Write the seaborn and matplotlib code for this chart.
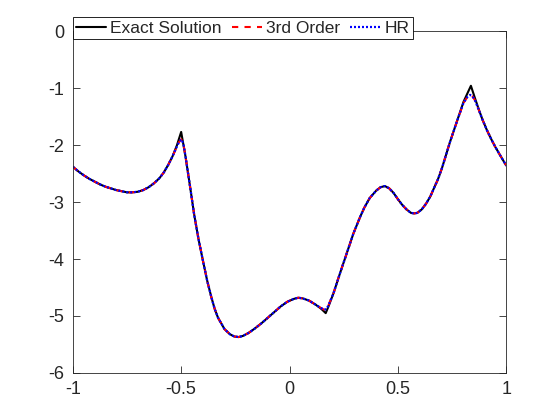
import numpy as np
import pandas as pd
import seaborn as sns
import matplotlib
matplotlib.use("Agg")
import matplotlib.pyplot as plt

# values
x_exact = [-1.0, -0.975, -0.95, -0.925, -0.90, -0.875, -0.85, -0.825, -0.80, -0.775,
           -0.75, -0.725, -0.70, -0.675, -0.65, -0.625, -0.60, -0.58, -0.56, -0.54,
           -0.52, -0.50, -0.48, -0.46, -0.44, -0.42, -0.40, -0.38, -0.36, -0.345,
           -0.33, -0.30, -0.275, -0.255, -0.235, -0.215, -0.19, -0.16, -0.13, -0.10,
           -0.07, -0.04, -0.01, 0.02, 0.04, 0.06, 0.09, 0.12, 0.145, 0.167,
           0.18, 0.203, 0.233, 0.264, 0.295, 0.326, 0.345, 0.37, 0.40, 0.42,
           0.44, 0.46, 0.48, 0.50, 0.52, 0.54, 0.56, 0.575, 0.59, 0.61,
           0.63, 0.65, 0.665, 0.685, 0.703, 0.72, 0.741, 0.772, 0.803, 0.82,
           0.837, 0.855, 0.872, 0.89, 0.911, 0.93, 0.949, 0.975, 1.0]
y_exact = [-2.38, -2.46, -2.53, -2.59, -2.64, -2.69, -2.73, -2.76, -2.79, -2.81,
           -2.83, -2.83, -2.82, -2.79, -2.74, -2.67, -2.58, -2.48, -2.35, -2.20,
           -2.01, -1.77, -2.20, -2.70, -3.22, -3.65, -4.02, -4.38, -4.68, -4.88,
           -5.03, -5.23, -5.32, -5.36, -5.37, -5.35, -5.30, -5.22, -5.13, -5.03,
           -4.93, -4.83, -4.75, -4.70, -4.68, -4.69, -4.73, -4.80, -4.87, -4.95,
           -4.83, -4.60, -4.25, -3.90, -3.55, -3.26, -3.10, -2.93, -2.80, -2.74,
           -2.72, -2.76, -2.84, -2.95, -3.05, -3.13, -3.19, -3.20, -3.19, -3.13,
           -3.03, -2.90, -2.77, -2.60, -2.41, -2.20, -1.94, -1.59, -1.24, -1.10,
           -0.96, -1.17, -1.36, -1.55, -1.74, -1.89, -2.03, -2.20, -2.36]

x_num = [-1.0, -0.975, -0.95, -0.925, -0.90, -0.875, -0.85, -0.825, -0.80, -0.775,
         -0.75, -0.725, -0.70, -0.675, -0.65, -0.625, -0.60, -0.58, -0.56, -0.54,
         -0.52, -0.51, -0.50, -0.49, -0.48, -0.46, -0.44, -0.42, -0.40, -0.38,
         -0.36, -0.345, -0.33, -0.30, -0.275, -0.255, -0.235, -0.215, -0.19, -0.16,
         -0.13, -0.10, -0.07, -0.04, -0.01, 0.02, 0.04, 0.06, 0.09, 0.12,
         0.145, 0.16, 0.17, 0.18, 0.203, 0.233, 0.264, 0.295, 0.326, 0.345,
         0.37, 0.40, 0.42, 0.44, 0.46, 0.48, 0.50, 0.52, 0.54, 0.56,
         0.575, 0.59, 0.61, 0.63, 0.65, 0.665, 0.685, 0.703, 0.72, 0.741,
         0.772, 0.803, 0.82, 0.833, 0.845, 0.855, 0.872, 0.89, 0.911, 0.93,
         0.949, 0.975, 1.0]
y_3rd = [-2.38, -2.46, -2.53, -2.59, -2.64, -2.69, -2.73, -2.76, -2.79, -2.81,
         -2.83, -2.83, -2.82, -2.79, -2.74, -2.67, -2.58, -2.48, -2.35, -2.20,
         -2.03, -1.95, -1.90, -1.97, -2.20, -2.70, -3.22, -3.65, -4.02, -4.38,
         -4.68, -4.88, -5.03, -5.23, -5.32, -5.36, -5.37, -5.35, -5.30, -5.22,
         -5.13, -5.03, -4.93, -4.83, -4.75, -4.70, -4.68, -4.69, -4.73, -4.80,
         -4.86, -4.89, -4.88, -4.81, -4.60, -4.25, -3.90, -3.55, -3.26, -3.10,
         -2.93, -2.80, -2.74, -2.72, -2.76, -2.84, -2.95, -3.05, -3.13, -3.19,
         -3.20, -3.19, -3.13, -3.03, -2.90, -2.77, -2.60, -2.41, -2.20, -1.94,
         -1.59, -1.26, -1.16, -1.12, -1.15, -1.21, -1.37, -1.55, -1.74, -1.89,
         -2.03, -2.20, -2.36]
y_hr = [-2.38, -2.46, -2.53, -2.59, -2.64, -2.69, -2.73, -2.76, -2.79, -2.81,
        -2.83, -2.83, -2.82, -2.79, -2.74, -2.67, -2.58, -2.48, -2.35, -2.20,
        -2.03, -1.95, -1.90, -1.97, -2.20, -2.70, -3.22, -3.65, -4.02, -4.38,
        -4.68, -4.88, -5.03, -5.23, -5.32, -5.36, -5.37, -5.35, -5.30, -5.22,
        -5.13, -5.03, -4.93, -4.83, -4.75, -4.70, -4.68, -4.69, -4.73, -4.80,
        -4.86, -4.89, -4.88, -4.81, -4.60, -4.25, -3.90, -3.55, -3.26, -3.10,
        -2.93, -2.80, -2.74, -2.72, -2.76, -2.84, -2.95, -3.05, -3.13, -3.19,
        -3.20, -3.19, -3.13, -3.03, -2.90, -2.77, -2.60, -2.41, -2.20, -1.94,
        -1.59, -1.26, -1.16, -1.12, -1.15, -1.21, -1.37, -1.55, -1.74, -1.89,
        -2.03, -2.20, -2.36]

x_ticks = [-1, -0.5, 0, 0.5, 1]
x_labels = ["-1", "-0.5", "0", "0.5", "1"]
y_ticks = [0, -1, -2, -3, -4, -5, -6]
y_labels = ["0", "-1", "-2", "-3", "-4", "-5", "-6"]

sns.set_style("ticks")
plt.rcParams['font.family'] = ['Liberation Sans', 'DejaVu Sans']
grey = (0.15, 0.15, 0.15)

fig = plt.figure(figsize=(5.6, 4.2), dpi=100)
ax = fig.add_axes([0.13, 0.112, 0.774, 0.814])

exact = pd.DataFrame({'x': x_exact, 'y': y_exact})
num3 = pd.DataFrame({'x': x_num, 'y': y_3rd})
numhr = pd.DataFrame({'x': x_num, 'y': y_hr})

sns.lineplot(data=exact, x='x', y='y', ax=ax, color='black', lw=1.5,
             label='Exact Solution', sort=False)
sns.lineplot(data=num3, x='x', y='y', ax=ax, color='red', lw=1.5,
             label='3rd Order', sort=False)
ax.lines[-1].set_dashes((3, 3))
sns.lineplot(data=numhr, x='x', y='y', ax=ax, color='blue', lw=1.6,
             label='HR', sort=False)
ax.lines[-1].set_dashes((0.9, 0.9))

ax.set_xlim(-1, 1)
ax.set_ylim(-6, 0)
ax.set_xticks(x_ticks)
ax.set_xticklabels(x_labels)
ax.set_yticks(y_ticks)
ax.set_yticklabels(y_labels)
ax.set_xlabel('')
ax.set_ylabel('')
ax.tick_params(direction='in', length=5, width=0.6, colors=grey,
               labelsize=13, top=True, right=True, pad=6)
for s in ax.spines.values():
    s.set_visible(True)
    s.set_color(grey)
    s.set_linewidth(0.6)

leg = ax.legend(loc='upper left', bbox_to_anchor=(0.0, 1.041), ncol=3,
                fontsize=12.5, frameon=True, fancybox=False, handlelength=1.7,
                handletextpad=0.25, columnspacing=0.6, borderpad=0.2,
                borderaxespad=0, framealpha=1)
leg.get_frame().set_edgecolor('black')
leg.get_frame().set_linewidth(0.6)

fig.savefig('out.png', dpi=100)
